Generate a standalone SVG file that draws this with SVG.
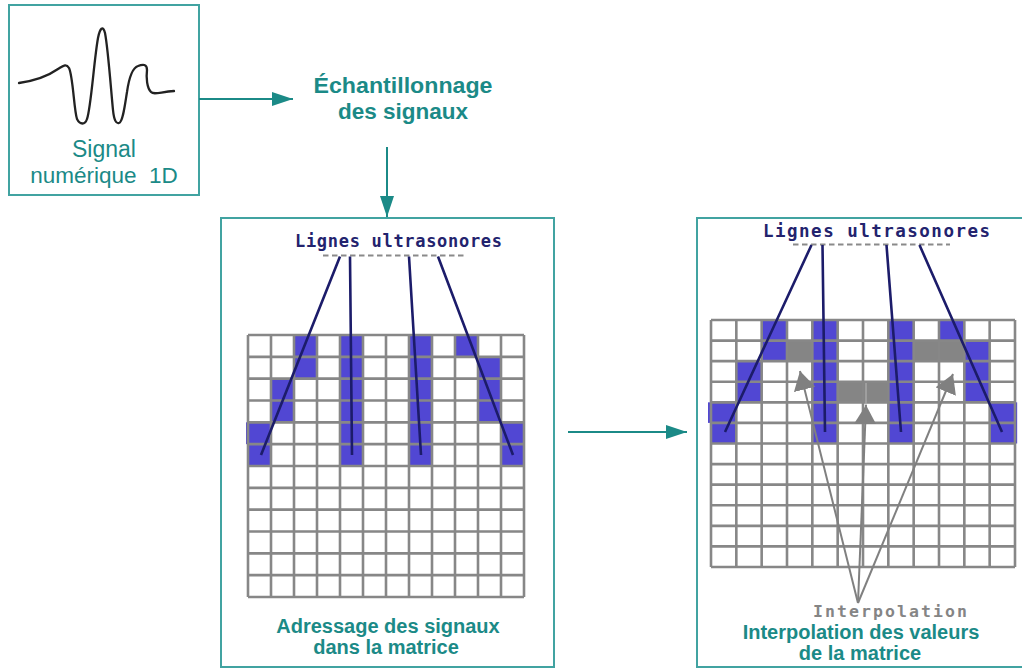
<svg xmlns="http://www.w3.org/2000/svg" width="1022" height="668" viewBox="0 0 1022 668">
<style>
.box{fill:#fff;stroke:#41a3a1;stroke-width:2}
.teal{fill:#1b8a87;font-family:"Liberation Sans",Arial,sans-serif;text-anchor:middle}
.b{font-weight:bold}
.mono{font-family:"DejaVu Sans Mono","Liberation Mono",monospace;font-weight:bold}
.navy{fill:#23236e}
.blue{fill:#5147d3}
.gcell{fill:#858585}
.grid{fill:none;stroke:#878787;stroke-width:2.6}
.ray{stroke:#1c1c6a;stroke-width:2.6;fill:none}
.dash{stroke:#8a8a8a;stroke-width:2;stroke-dasharray:5.5 3.5;fill:none}
.conn{stroke:#1b8a87;stroke-width:2;fill:none}
.garrow{stroke:#808080;stroke-width:2;fill:none}
</style>
<defs>
<marker id="ah" markerWidth="21" markerHeight="14" refX="21" refY="7" orient="auto" markerUnits="userSpaceOnUse"><path d="M0,0 L21,7 L0,14 z" fill="#1b8a87"/></marker>
<marker id="gh" markerWidth="19" markerHeight="22" refX="19" refY="11" orient="auto" markerUnits="userSpaceOnUse"><path d="M0,0 L19,11 L0,22 z" fill="#808080"/></marker>
</defs>
<rect width="1022" height="668" fill="#fff"/>

<g id="signal">
<rect class="box" x="9" y="5" width="190" height="190"/>
<path d="M19,83 C33,81 48,76 58,69 C63,66 66,63 69,68 C73,76 74,110 77,119 C80,125 85,125 87,119 C91,108 94,60 98,38 C100,28 103,25 105,33 C108,48 111,90 113,110 C114,120 116,124 119,123 C123,122 125,104 127,92 C129,78 132,68 138,66 C143,64 147,64 147,70 C146,78 147,88 151,92 C154,95 160,92 174,91" fill="none" stroke="#222" stroke-width="2.3" stroke-linecap="round" stroke-linejoin="round"/>
<text class="teal" x="104" y="157" font-size="23">Signal</text>
<text class="teal" x="104" y="183" font-size="22.5" xml:space="preserve">numérique  1D</text>
</g>

<g id="echantillonnage">
<text class="teal b" x="403" y="93" font-size="22.5" textLength="179" lengthAdjust="spacingAndGlyphs">Échantillonnage</text>
<text class="teal b" x="403" y="119" font-size="22.5">des signaux</text>
</g>

<g id="adressage">
<rect class="box" x="221" y="218" width="333" height="449"/>
<text class="mono navy" x="295" y="247" font-size="17" textLength="207">Lignes ultrasonores</text>
<path class="dash" d="M323,255.5 H467"/>
<g>
<rect class="blue" x="340" y="335" width="23" height="131"/>
<rect class="blue" x="409" y="335" width="23" height="131"/>
<rect class="blue" x="294" y="335" width="23" height="43.67"/>
<rect class="blue" x="271" y="378.67" width="23" height="43.67"/>
<rect class="blue" x="246" y="422.33" width="25" height="21.83"/>
<rect class="blue" x="248" y="444.17" width="24" height="21.83"/>
<rect class="blue" x="455" y="335" width="23" height="21.83"/>
<rect class="blue" x="478" y="356.83" width="23" height="65.5"/>
<rect class="blue" x="501" y="422.33" width="23" height="43.67"/>
</g>
<path class="grid" d="M248,335 V597 M271,335 V597 M294,335 V597 M317,335 V597 M340,335 V597 M363,335 V597 M386,335 V597 M409,335 V597 M432,335 V597 M455,335 V597 M478,335 V597 M501,335 V597 M524,335 V597 M248,335 H524 M248,356.83 H524 M248,378.67 H524 M248,400.5 H524 M248,422.33 H524 M248,444.17 H524 M248,466 H524 M248,487.83 H524 M248,509.67 H524 M248,531.5 H524 M248,553.33 H524 M248,575.17 H524 M248,597 H524"/>
<path class="ray" d="M340,256.5 L261,455 M350,256.5 L352,455 M409,256.5 L421,455 M438,256.5 L513,455"/>
<text class="teal b" x="388" y="633" font-size="20">Adressage des signaux</text>
<text class="teal b" x="386" y="654" font-size="20">dans la matrice</text>
</g>

<g id="interpolation">
<rect class="box" x="697" y="218" width="340" height="449"/>
<text class="mono navy" x="763" y="237" font-size="17.5" textLength="227">Lignes ultrasonores</text>
<path class="dash" d="M793,244.5 H950"/>
<g>
<rect class="blue" x="812.33" y="320" width="25.33" height="123.5"/>
<rect class="blue" x="888.33" y="320" width="25.33" height="123.5"/>
<rect class="blue" x="761.67" y="320" width="25.33" height="41.17"/>
<rect class="blue" x="736.33" y="361.17" width="25.33" height="41.17"/>
<rect class="blue" x="708" y="402.33" width="28" height="20.58"/>
<rect class="blue" x="711" y="422.92" width="26" height="20.58"/>
<rect class="blue" x="939" y="320" width="25.33" height="20.58"/>
<rect class="blue" x="964.33" y="340.58" width="25.33" height="61.75"/>
<rect class="blue" x="989.67" y="402.33" width="27.5" height="41.17"/>
<rect class="gcell" x="787" y="340.58" width="25.33" height="20.58"/>
<rect class="gcell" x="913.67" y="340.58" width="50.67" height="20.58"/>
<rect class="gcell" x="837.67" y="381.75" width="50.67" height="20.58"/>
</g>
<path class="grid" d="M711,320 V567 M736.33,320 V567 M761.67,320 V567 M787,320 V567 M812.33,320 V567 M837.67,320 V567 M863,320 V567 M888.33,320 V567 M913.67,320 V567 M939,320 V567 M964.33,320 V567 M989.67,320 V567 M1015,320 V567 M711,320 H1015 M711,340.58 H1015 M711,361.17 H1015 M711,381.75 H1015 M711,402.33 H1015 M711,422.92 H1015 M711,443.5 H1015 M711,464.08 H1015 M711,484.67 H1015 M711,505.25 H1015 M711,525.83 H1015 M711,546.42 H1015 M711,567 H1015"/>
<path class="ray" d="M811.5,245 L725,432 M822.5,245 L825,432 M886.5,245 L901,432 M919.5,245 L1002,432"/>
<path d="M866,383 V405" stroke="#b0b0b0" stroke-width="1.2"/>
<path class="garrow" marker-end="url(#gh)" d="M858,603 L800,371"/>
<path class="garrow" marker-end="url(#gh)" d="M858,603 L866,405"/>
<path class="garrow" marker-end="url(#gh)" d="M858,603 L953,374"/>
<text class="mono" x="813" y="617" font-size="16.5" fill="#858585" textLength="154">Interpolation</text>
<text class="teal b" x="861" y="639" font-size="20">Interpolation des valeurs</text>
<text class="teal b" x="860" y="660" font-size="20">de la matrice</text>
</g>

<g id="connectors">
<path class="conn" marker-end="url(#ah)" d="M199,99 H293"/>
<path class="conn" marker-end="url(#ah)" d="M387,147 V217"/>
<path class="conn" marker-end="url(#ah)" d="M568,432 H687"/>
</g>
</svg>
